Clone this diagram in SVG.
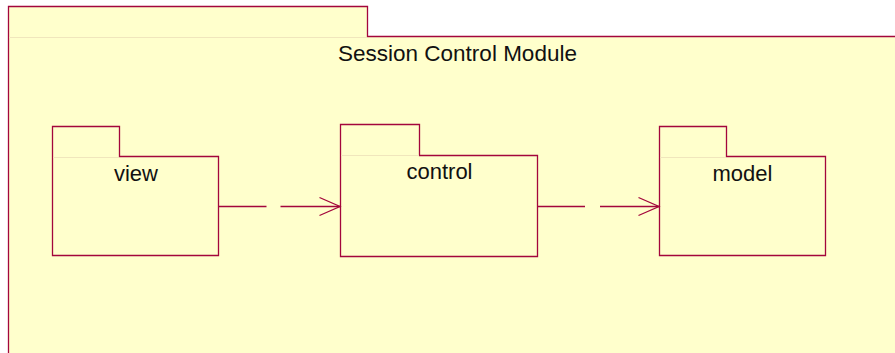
<svg xmlns="http://www.w3.org/2000/svg" width="895" height="353" viewBox="0 0 895 353">
<style>
.pkg{fill:#ffffcc;stroke:#a3063c;stroke-width:1.3}
.sep{stroke:#f0e6bc;stroke-width:1;fill:none}
.lbl{font-family:"Liberation Sans",Arial,sans-serif;fill:#111;text-anchor:middle}
.dep{stroke:#a3063c;stroke-width:1.3;fill:none}
</style>
<rect width="895" height="353" fill="#ffffff"/>
<g id="session-control-module">
<path class="pkg" d="M8.5,360 V6.5 H367.5 V36.5 H900 V360 Z"/>
<line class="sep" x1="9" y1="37.5" x2="367" y2="37.5"/>
<text class="lbl" x="457.5" y="60.5" font-size="22.5">Session Control Module</text>
</g>
<g id="view">
<path class="pkg" d="M52.5,126.5 H119.5 V156.5 H218.5 V255.5 H52.5 Z"/>
<line class="sep" x1="53" y1="157.5" x2="119" y2="157.5"/>
<text class="lbl" x="136" y="180.5" font-size="22">view</text>
</g>
<g id="control">
<path class="pkg" d="M340.5,124.5 H419.5 V155.5 H537.5 V256.5 H340.5 Z"/>
<line class="sep" x1="341" y1="155.5" x2="419" y2="155.5"/>
<text class="lbl" x="439.5" y="179" font-size="22">control</text>
</g>
<g id="model">
<path class="pkg" d="M659.5,126.5 H726.5 V156.5 H825.5 V255.5 H659.5 Z"/>
<line class="sep" x1="660" y1="157.5" x2="726" y2="157.5"/>
<text class="lbl" x="742.5" y="180.5" font-size="22">model</text>
</g>
<g id="connectors">
<path class="dep" d="M219,206.5 H266.5 M280.5,206.5 H340"/>
<path class="dep" d="M319.5,197.5 L340,206.5 L319.5,215.5"/>
<path class="dep" d="M538,206.5 H585 M600,206.5 H659"/>
<path class="dep" d="M638.5,197.5 L659,206.5 L638.5,215.5"/>
</g>
</svg>
